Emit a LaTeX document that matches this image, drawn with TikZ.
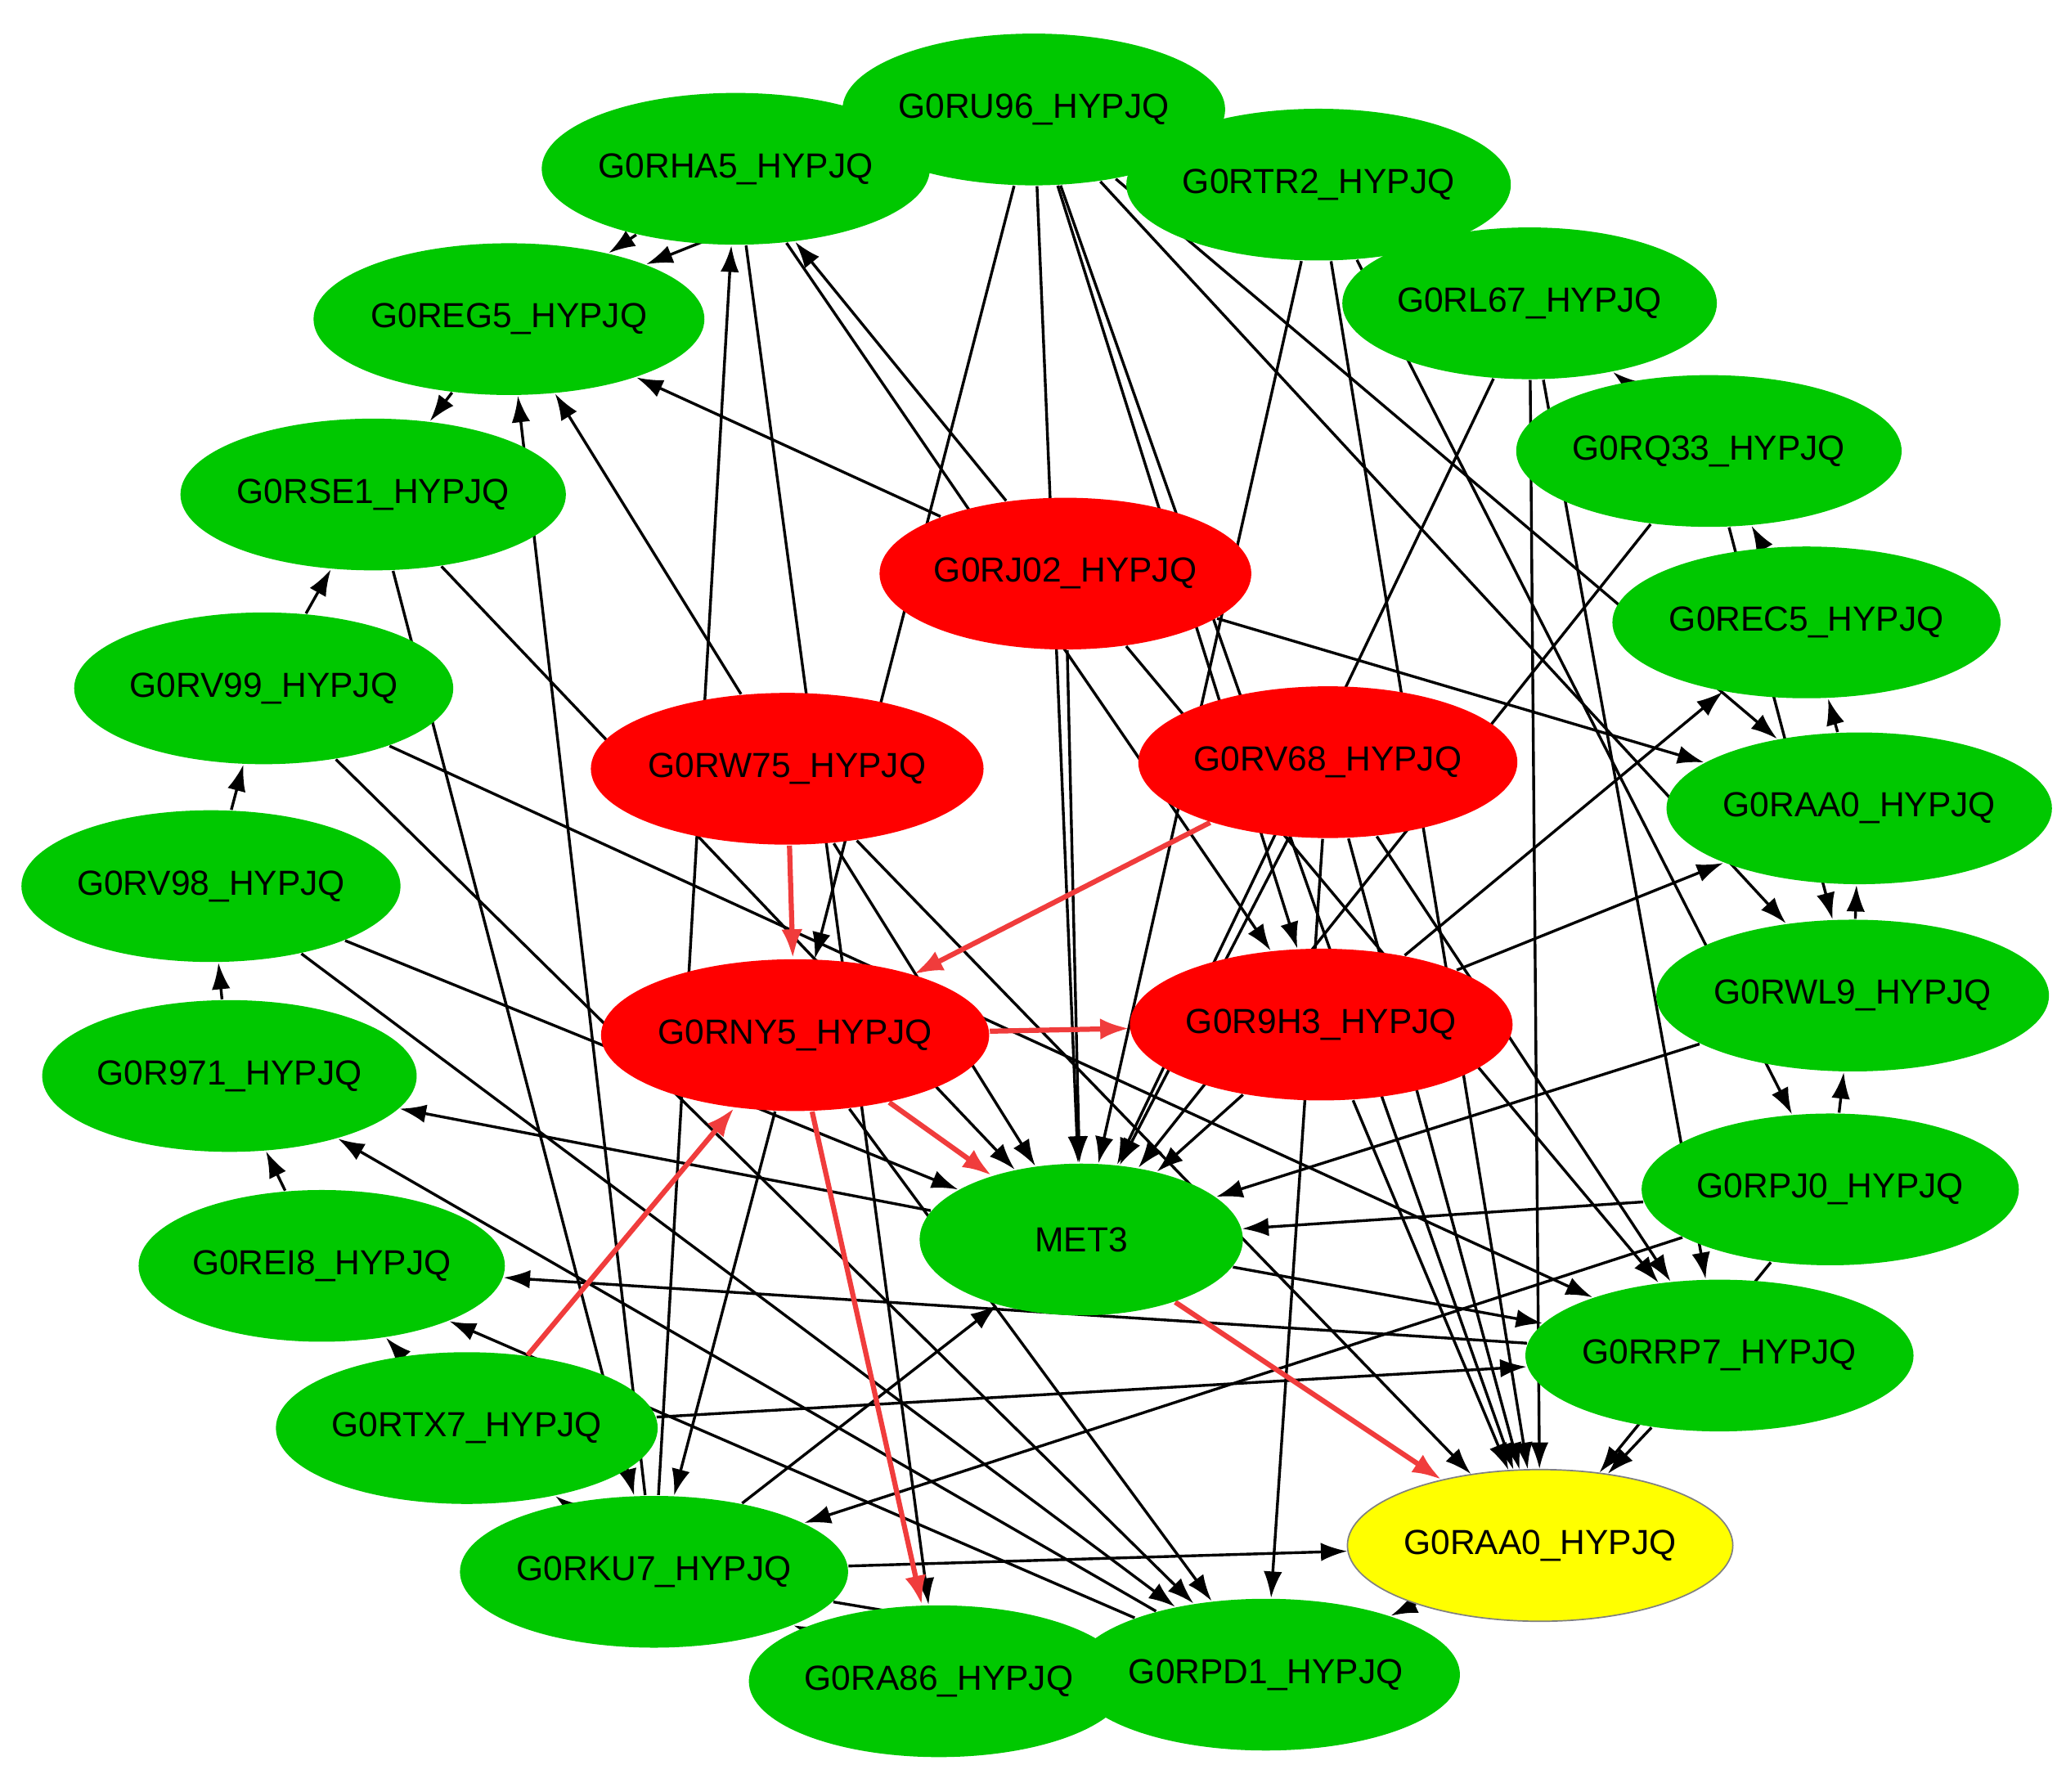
\documentclass[tikz,border=0pt]{standalone}
\usepackage{fontspec}
\setmainfont{Liberation Sans}
\usetikzlibrary{shapes.geometric,arrows.meta,backgrounds}
\definecolor{ngreen}{RGB}{0,200,0}
\definecolor{nred}{RGB}{255,0,0}
\definecolor{nyel}{RGB}{255,255,0}
\definecolor{ered}{RGB}{240,60,60}
\tikzset{
 base/.style={ellipse,minimum width=2.45cm,minimum height=1.15cm,inner sep=0pt,font=\fontsize{7.5}{9}\selectfont},
 gn/.style={base,fill=ngreen},
 rn/.style={base,fill=nred},
 yn/.style={base,fill=nyel,draw=gray,line width=0.3pt},
 be/.style={-{Latex[length=2mm,width=1.4mm]},line width=0.6pt,black},
 re/.style={-{Latex[length=2.2mm,width=1.6mm]},line width=1.1pt,ered},
}
\begin{document}
\begin{tikzpicture}[x=0.01cm,y=-0.01cm]
\useasboundingbox (0,0) rectangle (1560,1359);
\node[gn] (RU96) at (784,83) {G0RU96\_HYPJQ};
\node[gn] (RHA5) at (558,128) {G0RHA5\_HYPJQ};
\node[gn] (RTR2) at (1000,140) {G0RTR2\_HYPJQ};
\node[gn] (REG5) at (386,242) {G0REG5\_HYPJQ};
\node[gn] (RL67) at (1160,230) {G0RL67\_HYPJQ};
\node[gn] (RQ33) at (1296,342) {G0RQ33\_HYPJQ};
\node[gn] (RSE1) at (283,375) {G0RSE1\_HYPJQ};
\node[rn] (RJ02) at (808,435) {G0RJ02\_HYPJQ};
\node[gn] (REC5) at (1370,472) {G0REC5\_HYPJQ};
\node[gn] (RV99) at (200,522) {G0RV99\_HYPJQ};
\node[rn] (RW75) at (597,583) {G0RW75\_HYPJQ};
\node[rn] (RV68) at (1007,578) {G0RV68\_HYPJQ};
\node[gn] (RAAg) at (1410,613) {G0RAA0\_HYPJQ};
\node[gn] (RV98) at (160,672) {G0RV98\_HYPJQ};
\node[gn] (RWL9) at (1405,755) {G0RWL9\_HYPJQ};
\node[rn] (RNY5) at (603,785) {G0RNY5\_HYPJQ};
\node[rn] (R9H3) at (1002,777) {G0R9H3\_HYPJQ};
\node[gn] (R971) at (174,816) {G0R971\_HYPJQ};
\node[gn] (RPJ0) at (1388,902) {G0RPJ0\_HYPJQ};
\node[gn] (MET3) at (820,940) {MET3};
\node[gn] (REI8) at (244,960) {G0REI8\_HYPJQ};
\node[gn] (RRP7) at (1304,1028) {G0RRP7\_HYPJQ};
\node[gn] (RTX7) at (354,1083) {G0RTX7\_HYPJQ};
\node[yn] (RAAy) at (1168,1172) {G0RAA0\_HYPJQ};
\node[gn] (RKU7) at (496,1192) {G0RKU7\_HYPJQ};
\node[gn] (RA86) at (712,1275) {G0RA86\_HYPJQ};
\node[gn] (RPD1) at (960,1270) {G0RPD1\_HYPJQ};
\begin{pgfonlayer}{background}
\foreach \a/\b in {RU96/MET3,RU96/RNY5,RU96/R9H3,RU96/RAAg,RU96/RWL9,RU96/RAAy,
 RHA5/REG5,RU96/RHA5,RU96/REG5,RHA5/RA86,RHA5/R9H3,RTR2/RAAy,RTR2/MET3,RTR2/RPJ0,
 RL67/RAAy,RL67/MET3,RL67/RRP7,RQ33/RL67,RQ33/MET3,RQ33/RWL9,REC5/RQ33,RAAg/REC5,
 RWL9/RAAg,RPJ0/RWL9,R9H3/REC5,R9H3/RAAg,R9H3/MET3,R9H3/RAAy,RV68/RAAy,RV68/MET3,
 RV68/RRP7,RV68/RPD1,RJ02/RHA5,RJ02/REG5,RJ02/MET3,RJ02/RAAg,RJ02/RRP7,RW75/REG5,
 RW75/MET3,RW75/RAAy,RNY5/RKU7,RNY5/RPD1,RV99/RSE1,RV98/RV99,R971/RV98,REI8/R971,
 RTX7/REI8,RKU7/RTX7,RA86/RKU7,RKU7/RPD1,RAAy/RPD1,REG5/RSE1,RSE1/MET3,RSE1/RKU7,
 RV99/RPD1,RV99/RRP7,RV98/MET3,RV98/RPD1,MET3/R971,RRP7/REI8,RPD1/REI8,RPD1/R971,
 RTX7/RRP7,RKU7/RAAy,RKU7/MET3,RPJ0/RKU7,RPJ0/MET3,RKU7/RHA5,RKU7/REG5,RWL9/MET3,
 RPJ0/RAAy,RRP7/RAAy,MET3/RRP7}
 {\draw[be] (\a) -- (\b);}
\foreach \a/\b in {RW75/RNY5,RV68/RNY5,RNY5/R9H3,RNY5/MET3,RNY5/RA86,RTX7/RNY5,MET3/RAAy}
 {\draw[re] (\a) -- (\b);}
\end{pgfonlayer}
\end{tikzpicture}
\end{document}
